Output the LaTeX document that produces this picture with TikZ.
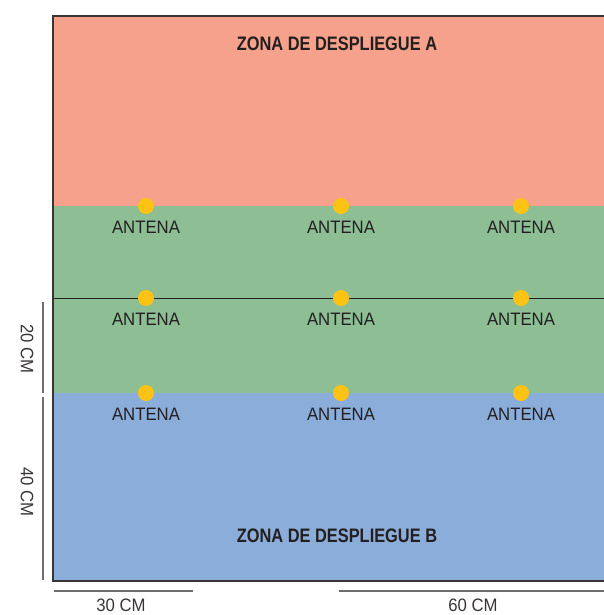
\documentclass[tikz,border=0pt]{standalone}
\usepackage{fontspec}
\setmainfont{Liberation Sans}
\newfontfamily\titlefont[FakeStretch=0.84]{Liberation Sans}
\newfontfamily\labfont[FakeStretch=0.93]{Liberation Sans}
\definecolor{zonea}{HTML}{F5A18B}
\definecolor{zonemid}{HTML}{8DBE94}
\definecolor{zoneb}{HTML}{8BADDA}
\definecolor{dotc}{HTML}{FDC314}
\definecolor{txt}{HTML}{231F20}
\definecolor{dimc}{HTML}{6E6E6E}
\tikzset{
  antdot/.style={circle,fill=dotc,draw=none,minimum size=16pt,inner sep=0pt},
  antlab/.style={font=\labfont\fontsize{18}{18}\selectfont,text=txt,inner sep=0pt,anchor=center},
  zonelab/.style={font=\titlefont\bfseries\fontsize{19.5}{19.5}\selectfont,text=txt,inner sep=0pt},
  dimlab/.style={font=\labfont\fontsize{18}{18}\selectfont,text=txt!90,inner sep=0pt},
  dimline/.style={draw=dimc,line width=1.5pt},
  border/.style={draw=txt!90,line width=1.5pt}
}
\begin{document}
\begin{tikzpicture}[x=1pt,y=-1pt]
\useasboundingbox (0,0) rectangle (604,615);
% zones
\fill[zonea] (53,16) rectangle (604,206);
\fill[zonemid] (53,206) rectangle (604,393);
\fill[zoneb] (53,393) rectangle (604,581);
% middle line
\draw[draw=txt,line width=0.9pt] (53,298) -- (604,298);
% border
\draw[border] (604,16) -- (53,16) -- (53,581) -- (604,581);
% zone labels
\node[zonelab] (za) at (337,44) {ZONA DE DESPLIEGUE A};
\node[zonelab] (zb) at (337,536) {ZONA DE DESPLIEGUE B};
% antennas
\foreach \r/\yy in {1/206,2/298,3/393}{
  \foreach \c/\xx in {1/146,2/341,3/521}{
    \node[antdot] (d\r\c) at (\xx,\yy) {};
    \node[antlab] (t\r\c) at ([yshift=-21pt]d\r\c.center) {ANTENA};
  }
}
% dimension lines
\coordinate (l1a) at (43,302); \coordinate (l1b) at (43,393);
\coordinate (l2a) at (43,397); \coordinate (l2b) at (43,580);
\coordinate (b1a) at (54,591); \coordinate (b1b) at (193,591);
\coordinate (b2a) at (339,591); \coordinate (b2b) at (604,591);
\draw[dimline] (l1a) -- (l1b);
\draw[dimline] (l2a) -- (l2b);
\draw[dimline] (b1a) -- (b1b);
\draw[dimline] (b2a) -- (b2b);
\node[dimlab,rotate=-90] (d20) at (27,349) {20 CM};
\node[dimlab,rotate=-90] (d40) at (27,492) {40 CM};
\node[dimlab] (d30) at (121,605) {30 CM};
\node[dimlab] (d60) at (473,605) {60 CM};
\end{tikzpicture}
\end{document}
